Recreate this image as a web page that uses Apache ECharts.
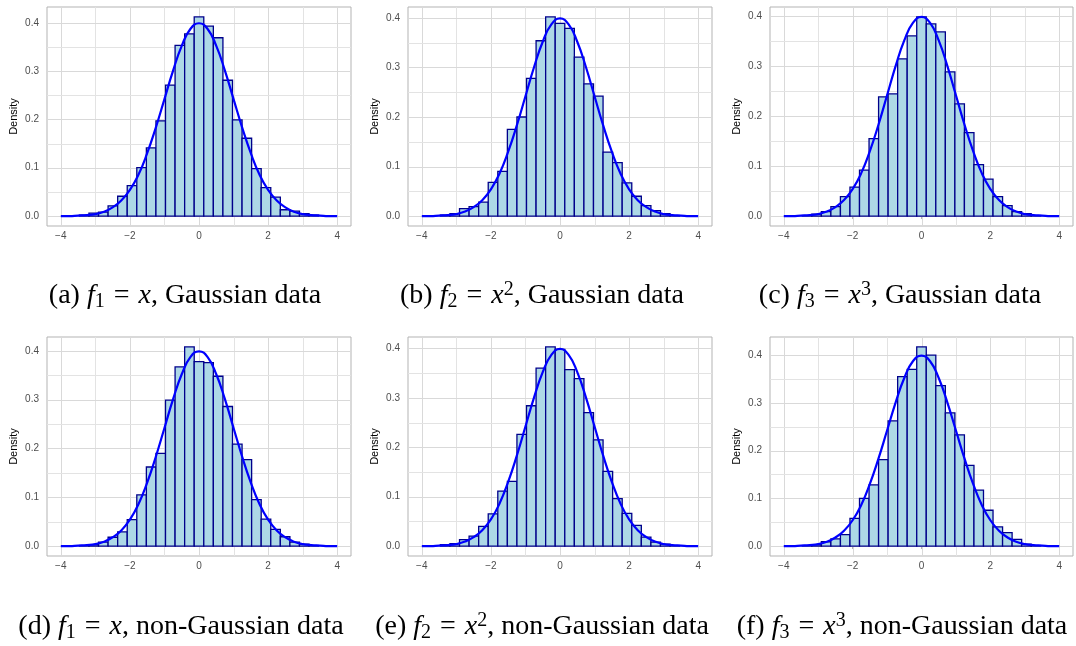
<!DOCTYPE html>
<html>
<head>
<meta charset="utf-8">
<script src="https://cdn.jsdelivr.net/npm/echarts@6/dist/echarts.min.js"></script>
<style>
  html, body { margin: 0; padding: 0; background: #fff; }
  #chart { width: 1076px; height: 646px; }
</style>
</head>
<body>
<div id="chart"></div>
<script>
// histogram bins (centres): width ~0.277
const BIN_WIDTH = 0.277;
const binCenters = [-3.324, -3.047, -2.770, -2.493, -2.216, -1.939, -1.662, -1.385, -1.108, -0.831, -0.554, -0.277,
  0, 0.277, 0.554, 0.831, 1.108, 1.385, 1.662, 1.939, 2.216, 2.493, 2.770, 3.047, 3.324];

// bar heights (density) per panel
const histA = [0.002, 0.006, 0.008, 0.021, 0.041, 0.063, 0.100, 0.141, 0.197, 0.271, 0.353, 0.377,
  0.412, 0.393, 0.369, 0.281, 0.199, 0.161, 0.098, 0.059, 0.039, 0.013, 0.010, 0.005, 0.002];
const histB = [0.002, 0.005, 0.015, 0.019, 0.028, 0.068, 0.090, 0.175, 0.200, 0.278, 0.354, 0.402,
  0.389, 0.379, 0.321, 0.267, 0.242, 0.129, 0.108, 0.067, 0.040, 0.021, 0.011, 0.005, 0.001];
const histC = [0.001, 0.004, 0.009, 0.019, 0.039, 0.058, 0.092, 0.155, 0.239, 0.245, 0.315, 0.361,
  0.399, 0.385, 0.369, 0.289, 0.225, 0.167, 0.103, 0.074, 0.039, 0.021, 0.009, 0.005, 0.001];
const histD = [0.001, 0.003, 0.008, 0.018, 0.029, 0.054, 0.105, 0.162, 0.190, 0.299, 0.367, 0.408,
  0.378, 0.376, 0.348, 0.286, 0.209, 0.177, 0.095, 0.055, 0.034, 0.019, 0.008, 0.004, 0.001];
const histE = [0.003, 0.005, 0.013, 0.020, 0.040, 0.065, 0.111, 0.131, 0.226, 0.284, 0.360, 0.403,
  0.398, 0.357, 0.339, 0.270, 0.215, 0.151, 0.096, 0.066, 0.042, 0.018, 0.008, 0.004, 0.001];
const histF = [0.001, 0.003, 0.009, 0.015, 0.024, 0.058, 0.100, 0.128, 0.181, 0.262, 0.355, 0.370,
  0.417, 0.400, 0.336, 0.279, 0.233, 0.169, 0.117, 0.075, 0.040, 0.028, 0.014, 0.004, 0.001];

// density curve, read at 0.25 steps
const densityX = [-4, -3.75, -3.5, -3.25, -3, -2.75, -2.5, -2.25, -2, -1.75, -1.5, -1.25, -1, -0.75, -0.5, -0.25,
  0, 0.25, 0.5, 0.75, 1, 1.25, 1.5, 1.75, 2, 2.25, 2.5, 2.75, 3, 3.25, 3.5, 3.75, 4];
const densityY = [0.000, 0.000, 0.001, 0.002, 0.004, 0.009, 0.018, 0.032, 0.054, 0.086, 0.130, 0.183, 0.242, 0.301, 0.352, 0.387,
  0.399, 0.387, 0.352, 0.301, 0.242, 0.183, 0.130, 0.086, 0.054, 0.032, 0.018, 0.009, 0.004, 0.002, 0.001, 0.000, 0.000];

// ticks
const xMajor = [-4, -2, 0, 2, 4];
const xMinor = [-3, -1, 1, 3];
const yMajor = [0, 0.1, 0.2, 0.3, 0.4];
const yMinor = [0.05, 0.15, 0.25, 0.35];

const captions = [
  '{t|(a) }{m|f}{sub|1}{eq|=}{m|x}{t|, Gaussian data}',
  '{t|(b) }{m|f}{sub|2}{eq|=}{m|x}{sup|2}{t|, Gaussian data}',
  '{t|(c) }{m|f}{sub|3}{eq|=}{m|x}{sup|3}{t|, Gaussian data}',
  '{t|(d) }{m|f}{sub|1}{eq|=}{m|x}{t|, non-Gaussian data}',
  '{t|(e) }{m|f}{sub|2}{eq|=}{m|x}{sup|2}{t|, non-Gaussian data}',
  '{t|(f) }{m|f}{sub|3}{eq|=}{m|x}{sup|3}{t|, non-Gaussian data}'
];

const hists = [histA, histB, histC, histD, histE, histF];

// layout of the six panels (plot border boxes) and caption centres
const panels = [
  { left: 47, top: 7, width: 304, height: 219 },
  { left: 408, top: 7, width: 304, height: 219 },
  { left: 770, top: 7, width: 303, height: 219 },
  { left: 47, top: 337, width: 304, height: 219 },
  { left: 408, top: 337, width: 304, height: 219 },
  { left: 770, top: 337, width: 303, height: 219 }
];
const captionPos = [[185, 296], [542, 296], [900, 296], [181, 627], [542, 627], [902, 627]];

const minus = v => (v < 0 ? '\u2212' + Math.abs(v) : String(v));

function renderBar(params, api) {
  const x = api.value(0);
  const h = api.value(1);
  const p0 = api.coord([x - BIN_WIDTH / 2, h]);
  const p1 = api.coord([x + BIN_WIDTH / 2, 0]);
  return {
    type: 'rect',
    shape: { x: p0[0], y: p0[1], width: p1[0] - p0[0], height: p1[1] - p0[1] },
    style: { fill: '#add8e6', stroke: '#00008b', lineWidth: 1.3 }
  };
}

// gridlines: [orientation (0 = vertical, 1 = horizontal), value, major?]
function renderGrid(params, api) {
  const cs = params.coordSys;
  const dir = api.value(0);
  const v = api.value(1);
  const major = api.value(2) === 1;
  const p = api.coord([dir === 0 ? v : 0, dir === 0 ? 0 : v]);
  let shape;
  if (dir === 0) {
    const x = Math.round(p[0]) + 0.5;
    shape = { x1: x, y1: cs.y, x2: x, y2: cs.y + cs.height };
  } else {
    const y = Math.round(p[1]) + 0.5;
    shape = { x1: cs.x, y1: y, x2: cs.x + cs.width, y2: y };
  }
  return {
    type: 'line',
    shape,
    style: { stroke: major ? '#d9d9d9' : '#e3e3e3', lineWidth: 1 }
  };
}

const gridData = []
  .concat(xMajor.map(v => [0, v, 1]))
  .concat(xMinor.map(v => [0, v, 0]))
  .concat(yMajor.map(v => [1, v, 1]))
  .concat(yMinor.map(v => [1, v, 0]));

const grid = [], xAxis = [], yAxis = [], series = [];

hists.forEach((h, i) => {
  const top = Math.max(...h);
  grid.push(Object.assign({
    show: true, borderColor: '#b3b3b3', borderWidth: 1, backgroundColor: '#fff', containLabel: false
  }, panels[i]));

  xAxis.push({
    type: 'value', gridIndex: i, min: -4.4, max: 4.4,
    axisLine: { show: false },
    splitLine: { show: false },
    axisTick: { show: true, customValues: xMajor, length: 3, lineStyle: { color: '#b3b3b3' } },
    axisLabel: { customValues: xMajor, formatter: minus, color: '#4d4d4d', fontSize: 10, margin: 5, fontFamily: 'Liberation Sans' }
  });

  yAxis.push({
    type: 'value', gridIndex: i, min: -0.05 * top, max: 1.05 * top,
    name: 'Density', nameLocation: 'middle', nameGap: 28, nameRotate: 90,
    nameTextStyle: { color: '#000', fontSize: 11, fontFamily: 'Liberation Sans' },
    axisLine: { show: false },
    splitLine: { show: false },
    axisTick: { show: true, customValues: yMajor, length: 3, lineStyle: { color: '#b3b3b3' } },
    axisLabel: { customValues: yMajor, formatter: v => v.toFixed(1), color: '#4d4d4d', fontSize: 10, margin: 8, fontFamily: 'Liberation Sans' }
  });

  series.push({
    type: 'custom', xAxisIndex: i, yAxisIndex: i, z: 1, silent: true,
    renderItem: renderGrid, data: gridData, encode: { x: 1 }
  });
  series.push({
    type: 'custom', xAxisIndex: i, yAxisIndex: i, z: 2, silent: true,
    renderItem: renderBar, data: binCenters.map((c, k) => [c, h[k]]), encode: { x: 0, y: 1 }
  });
  series.push({
    type: 'line', xAxisIndex: i, yAxisIndex: i, z: 3, silent: true,
    data: densityX.map((x, k) => [x, densityY[k]]),
    showSymbol: false, smooth: true,
    lineStyle: { color: '#0000ff', width: 2.2 }
  });
});

const serif = 'Liberation Serif, Times New Roman, serif';
const rich = {
  t: { fontFamily: serif, fontSize: 28, lineHeight: 32, color: '#000' },
  m: { fontFamily: serif, fontStyle: 'italic', fontSize: 28, lineHeight: 32, color: '#000' },
  eq: { fontFamily: serif, fontSize: 28, lineHeight: 32, color: '#000', padding: [0, 9, 0, 9] },
  sub: { fontFamily: serif, fontSize: 20, lineHeight: 15, verticalAlign: 'bottom', color: '#000' },
  sup: { fontFamily: serif, fontSize: 20, lineHeight: 15, verticalAlign: 'top', color: '#000' }
};

const graphic = captions.map((c, i) => ({
  type: 'text',
  x: captionPos[i][0],
  y: captionPos[i][1],
  style: { text: c, rich, align: 'center', verticalAlign: 'middle', fontFamily: serif, fontSize: 28, fill: '#000' }
}));

const chart = echarts.init(document.getElementById('chart'));
chart.setOption({
  animation: false,
  backgroundColor: '#fff',
  grid, xAxis, yAxis, series, graphic
});
</script>
</body>
</html>
